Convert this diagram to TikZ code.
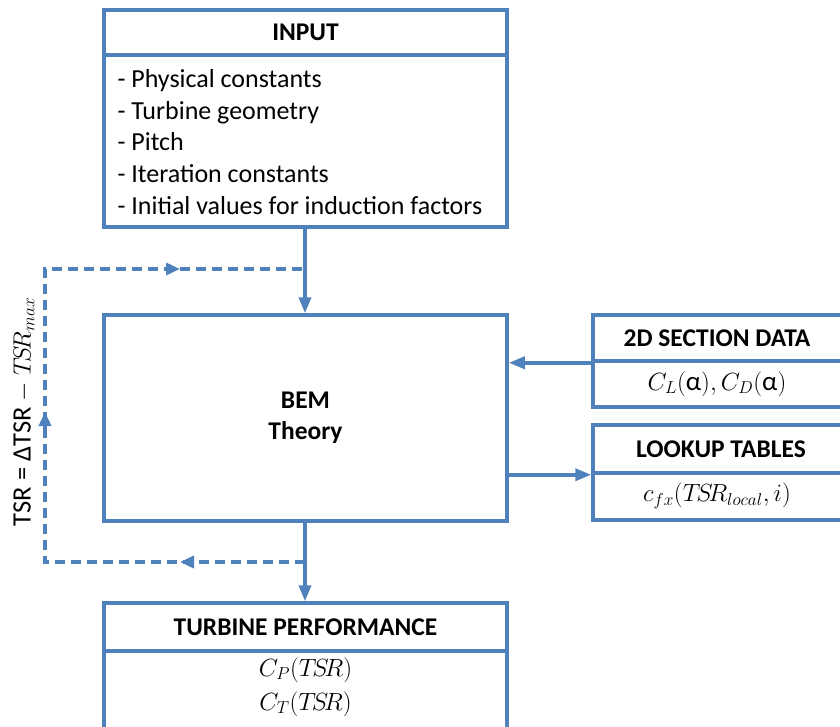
\documentclass[tikz,border=0pt]{standalone}
\usepackage{fontspec}
\setmainfont{Carlito}
\usetikzlibrary{arrows.meta}
\definecolor{bblue}{HTML}{4F81BD}
\tikzset{
  box/.style={draw=bblue, line width=3.5pt, rectangle, inner sep=0pt},
  conn/.style={draw=bblue, line width=3.5pt, -{Triangle[length=16pt,width=12pt]}},
  dashconn/.style={draw=bblue, line width=3.5pt, dash pattern=on 10pt off 6pt},
  midtip/.style={draw=bblue, line width=3.5pt, -{Triangle[length=14pt,width=12pt]}},
  hdr/.style={font=\fontsize{25.5}{30}\selectfont\bfseries},
  body/.style={font=\fontsize{26}{31.7}\selectfont},
  mathtxt/.style={font=\fontsize{27}{34}\selectfont},
}
\begin{document}
\begin{tikzpicture}[x=1pt,y=-1pt]
\useasboundingbox (0,0) rectangle (840,726);
% INPUT
\node[box, minimum width=403pt, minimum height=45pt] (ih) at (305.5,32.5) {};
\node[hdr] at (ih.center) {INPUT};
\node[box, minimum width=403pt, minimum height=172pt] (ib) at (305.5,141) {};
\node[body, align=left, anchor=west] (ibt) at (114,142) {- Physical constants\\- Turbine geometry\\- Pitch\\- Iteration constants\\- Initial values for induction factors};
% BEM
\node[box, minimum width=403pt, minimum height=206pt] (bem) at (305.5,418) {};
\node[align=center, font=\fontsize{25.5}{31}\selectfont\bfseries] at (305.5,418) {BEM\\Theory};
% 2D section
\node[box, minimum width=252pt, minimum height=46pt] (sh) at (719,338) {};
\node[hdr] at (717,338) {2D SECTION DATA};
\node[box, minimum width=252pt, minimum height=46pt] (sb) at (719,384) {};
\node[mathtxt] at (717,384) {$C_L(\mbox{α}),C_D(\mbox{α})$};
% Lookup
\node[box, minimum width=252pt, minimum height=48pt] (lh) at (719,449) {};
\node[hdr] at (721,449) {LOOKUP TABLES};
\node[box, minimum width=252pt, minimum height=47pt] (lb) at (719,496.5) {};
\node[mathtxt] at (717,496) {$c_{fx}(T\!S\!R_{local},i)$};
% Turbine performance
\node[box, minimum width=403pt, minimum height=48pt] (th) at (305.5,627) {};
\node[hdr] at (th.center) {TURBINE PERFORMANCE};
\node[box, minimum width=403pt, minimum height=90pt] (tb) at (305.5,696) {};
\node[mathtxt, align=center] at (305.5,687) {$C_P(T\!S\!R)$\\$C_T(T\!S\!R)$};
% connectors
\coordinate (j1) at (305,269);
\coordinate (j2) at (305,562);
\coordinate (c1) at (45,269);
\coordinate (c2) at (45,562);
\draw[conn] (ib.south -| j1) -- (bem.north -| j1);
\draw[conn] (bem.south -| j2) -- (th.north -| j2);
\draw[conn] (sh.south west) -- (bem.east |- sh.south west);
\draw[conn] (bem.east |- lh.south west) -- (lh.south west);
\draw[dashconn] (j2) -- (c2) -- (c1) -- (j1);
\draw[midtip] (168,269) -- (180,269);
\draw[midtip] (45,432) -- (45,412);
\draw[midtip] (194,562) -- (180,562);
% label
\node[rotate=90, font=\fontsize{26.5}{30}\selectfont] (lab) at (24,412) {TSR = ΔTSR $-$ $T\!S\!R_{max}$};
\end{tikzpicture}
\end{document}
